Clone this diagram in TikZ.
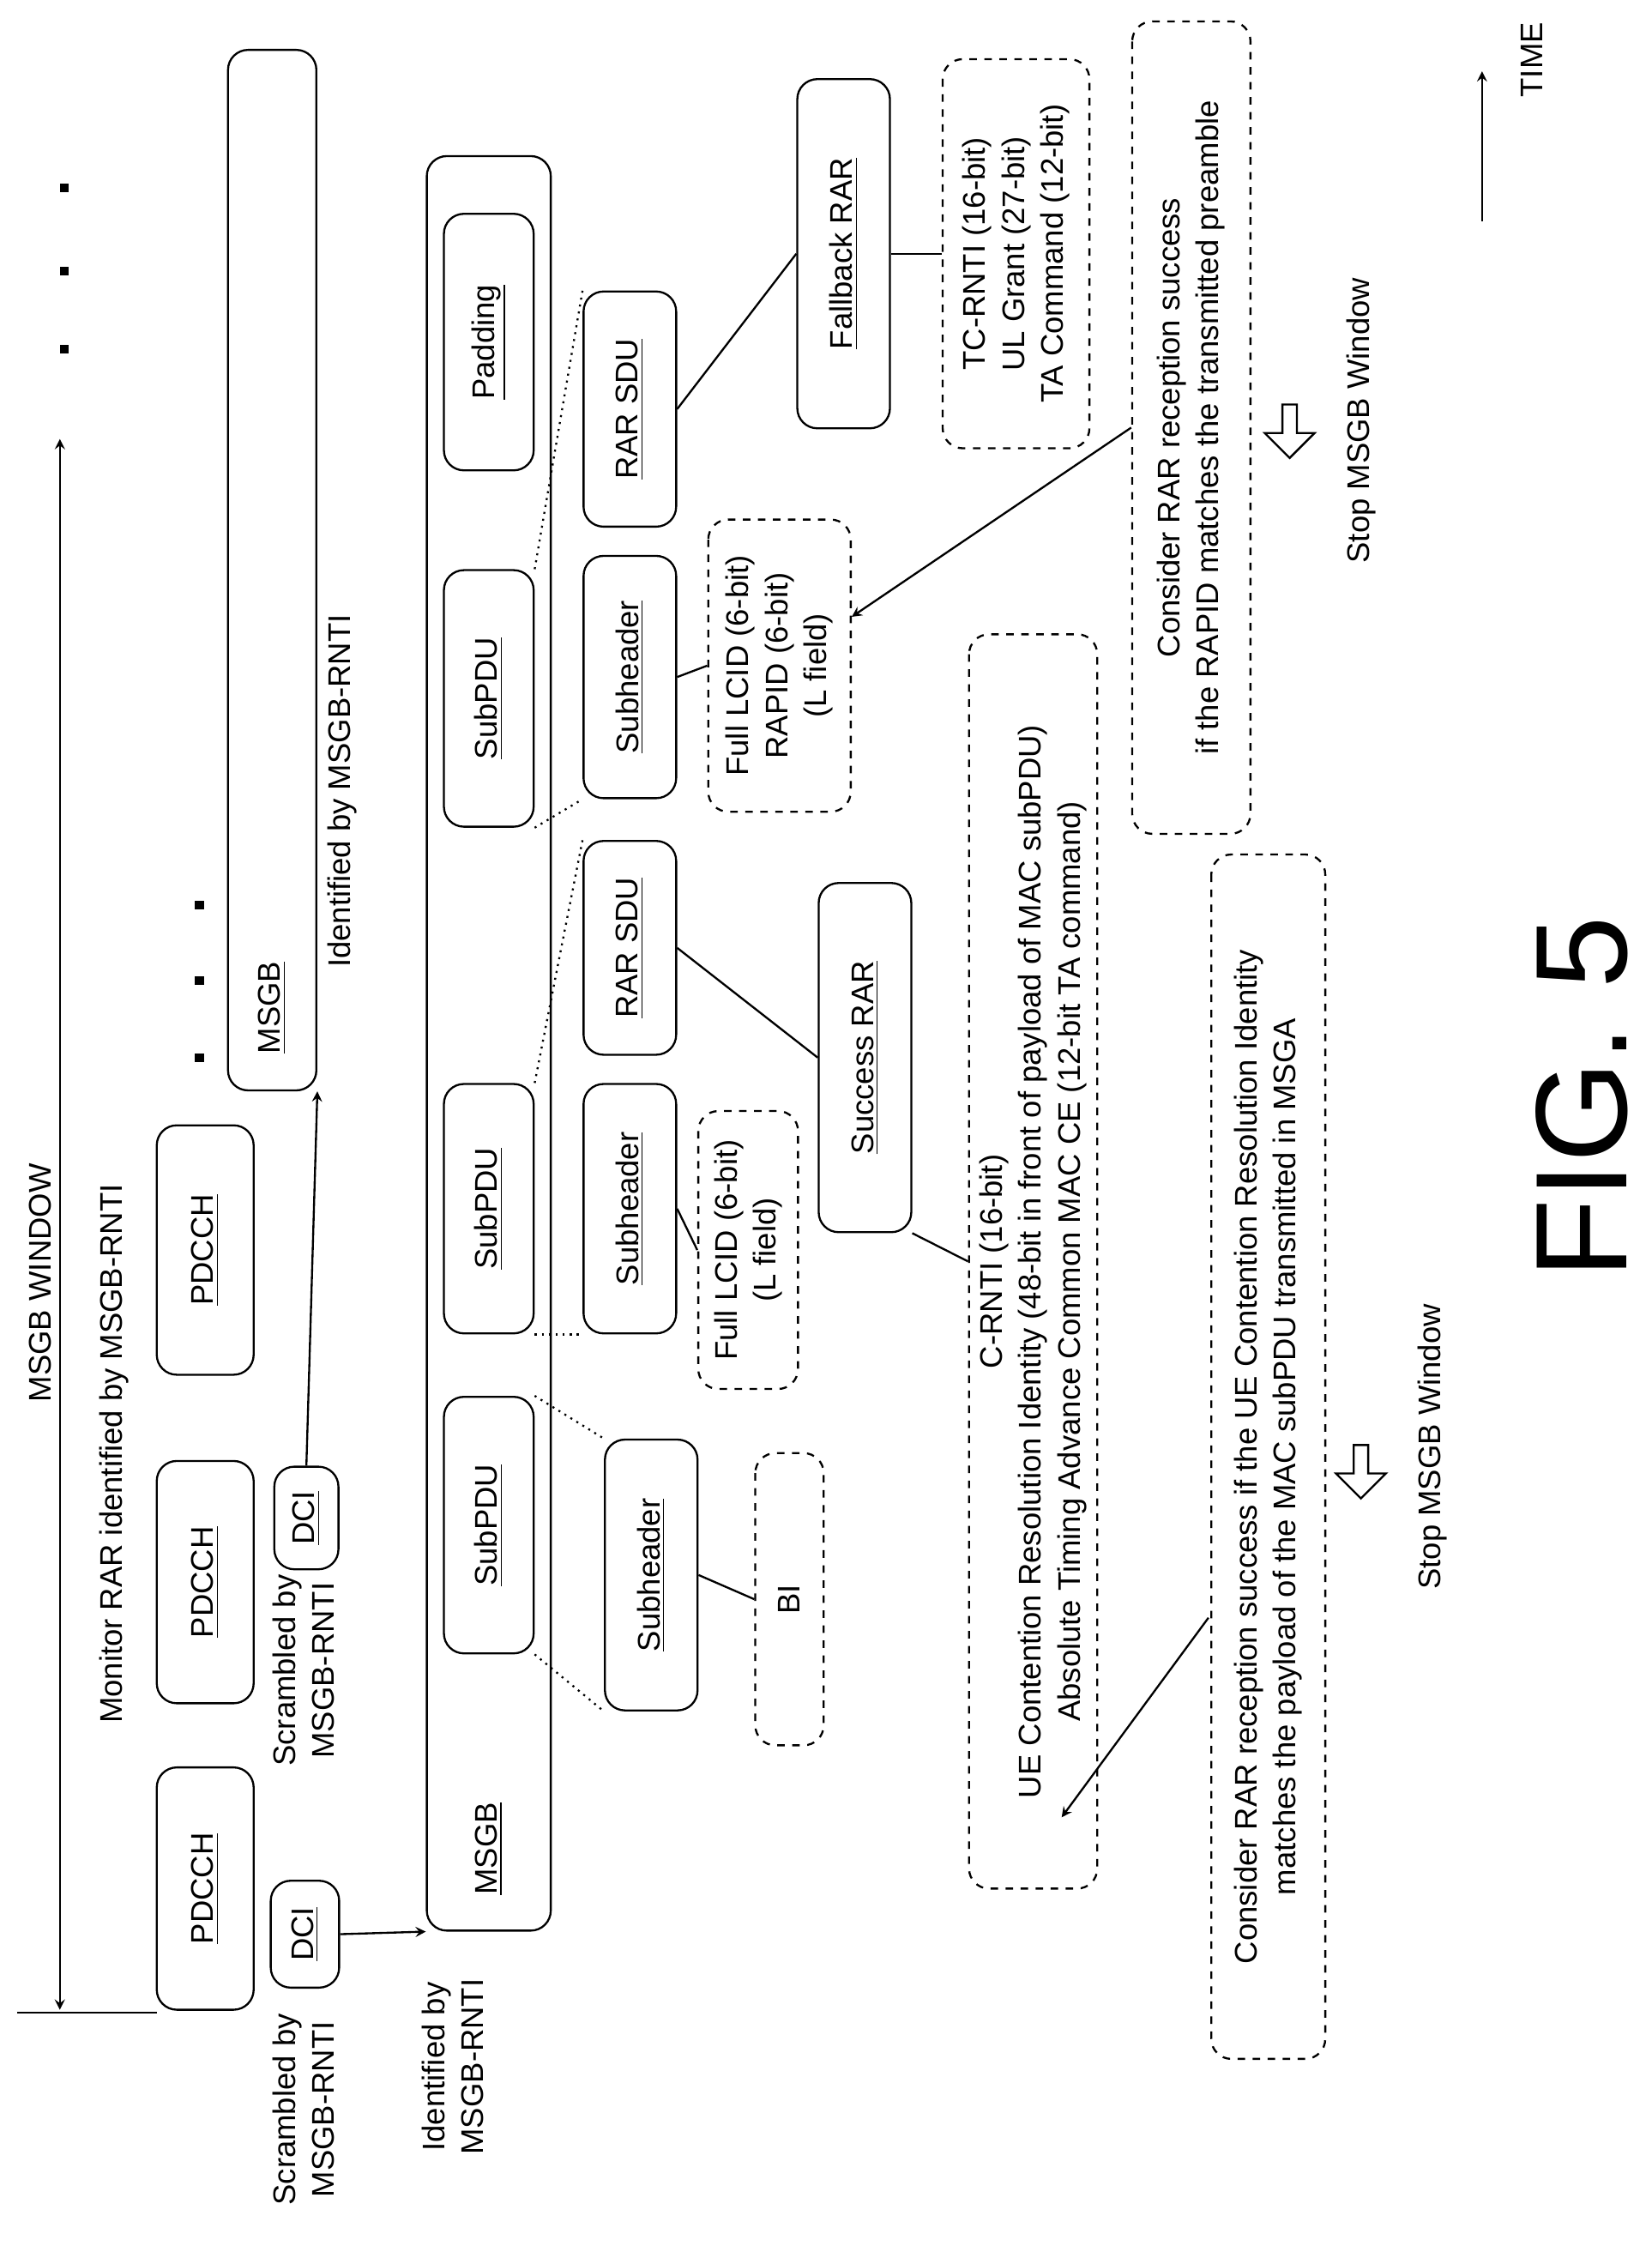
\documentclass[tikz,border=0pt]{standalone}
\usepackage{fontspec}
\setmainfont{Liberation Sans}
\usetikzlibrary{shapes.arrows}
\begin{document}
\begin{tikzpicture}[x=0.02cm,y=-0.02cm,>=stealth,line width=0.8pt,
  font=\fontsize{12.5}{15.5}\selectfont,
  box/.style={draw,rounded corners=8pt,rotate=90,inner sep=2pt},
  dbox/.style={draw,dashed,rounded corners=8pt,rotate=90,align=center,inner sep=2pt},
  lbl/.style={rotate=90,align=center,inner sep=0pt},
  stop/.style={draw,single arrow,shape border rotate=270,minimum width=0.7cm,
    minimum height=0.75cm,single arrow head extend=0.12cm,inner sep=1pt},
  dot/.style={fill,minimum size=3.5pt,inner sep=0pt}]
  % Frame
  \useasboundingbox (0,0) rectangle (1159,1580);

  % MSGB window
  \draw (12,1412) -- (110,1412);
  \draw[<->,thick] (42,1410) -- (42,308);
  \node[lbl] (win) at (28,900) {MSGB WINDOW};
  \node[lbl] (mon) at (80,1020) {Monitor RAR identified by MSGB-RNTI};
  \foreach \y in {132,190,245} \node[dot] at (45,\y) {};
  \foreach \y in {635,688,742} \node[dot] at (140,\y) {};

  % PDCCH and DCI
  \node[box,minimum width=170*0.02cm,minimum height=68*0.02cm] (pdcch1) at (144,1325) {\underline{PDCCH}};
  \node[box,minimum width=170*0.02cm,minimum height=68*0.02cm] (pdcch2) at (144,1110) {\underline{PDCCH}};
  \node[box,minimum width=175*0.02cm,minimum height=68*0.02cm] (pdcch3) at (144,877) {\underline{PDCCH}};
  \node[box,minimum width=75*0.02cm,minimum height=48*0.02cm] (dci1) at (214,1357) {\underline{DCI}};
  \node[box,minimum width=72*0.02cm,minimum height=45*0.02cm] (dci2) at (215,1065) {\underline{DCI}};
  \node[lbl] (scr1) at (213,1480) {Scrambled by\\MSGB-RNTI};
  \node[lbl] (scr2) at (213,1172) {Scrambled by\\MSGB-RNTI};

  % MSGB upper
  \node[box,minimum width=730*0.02cm,minimum height=62*0.02cm] (msgbtop) at (191,400) {};
  \node[lbl,anchor=west] (msgbtoplbl) at (191,740) {\underline{MSGB}};
  \node[lbl] (idtop) at (240,555) {Identified by MSGB-RNTI};
  \draw[->] (dci2.east) -- (msgbtop.south west);

  % MSGB main
  \node[box,minimum width=1245*0.02cm,minimum height=87*0.02cm] (msgb) at (343,732) {};
  \node[lbl,anchor=west] (msgblbl) at (343,1330) {\underline{MSGB}};
  \node[lbl] (idmain) at (318,1450) {Identified by\\MSGB-RNTI};
  \draw[->] (dci1.south) -- (msgb.north west);

  % SubPDUs
  \node[box,minimum width=180*0.02cm,minimum height=63*0.02cm] (sub1) at (343,1070) {\underline{SubPDU}};
  \node[box,minimum width=175*0.02cm,minimum height=63*0.02cm] (sub2) at (343,848) {\underline{SubPDU}};
  \node[box,minimum width=180*0.02cm,minimum height=63*0.02cm] (sub3) at (343,490) {\underline{SubPDU}};
  \node[box,minimum width=180*0.02cm,minimum height=63*0.02cm] (pad) at (343,240) {\underline{Padding}};

  % SubPDU 1
  \node[box,minimum width=190*0.02cm,minimum height=65*0.02cm] (sh1) at (457,1105) {\underline{Subheader}};
  \node[dbox,minimum width=205*0.02cm,minimum height=48*0.02cm] (bi) at (554,1122) {BI};
  \draw[dotted] (sub1.south east) -- (sh1.north east);
  \draw[dotted] (sub1.south west) -- (sh1.north west);
  \draw (sh1.south) -- (bi.north);

  % SubPDU 2
  \node[box,minimum width=175*0.02cm,minimum height=65*0.02cm] (sh2) at (442,848) {\underline{Subheader}};
  \node[box,minimum width=150*0.02cm,minimum height=65*0.02cm] (sdu2) at (442,665) {\underline{RAR SDU}};
  \draw[dotted] (sub2.south west) -- (sh2.north west);
  \draw[dotted] (sub2.south east) -- (sdu2.north east);
  \node[dbox,minimum width=195*0.02cm,minimum height=70*0.02cm] (lcid1) at (525,877) {Full LCID (6-bit)\\(L field)};
  \draw (sh2.south) -- (lcid1.north);
  \node[box,minimum width=245*0.02cm,minimum height=65*0.02cm] (srar) at (607,742) {\underline{Success RAR}};
  \draw (sdu2.south) -- (srar.north);
  \node[dbox,minimum width=880*0.02cm,minimum height=90*0.02cm] (crnti) at (725,885)
    {C-RNTI (16-bit)\\UE Contention Resolution Identity (48-bit in front of payload of MAC subPDU)\\Absolute Timing Advance Common MAC CE (12-bit TA command)};
  \draw (srar.south west) -- (crnti.north);

  % SubPDU 3
  \node[box,minimum width=170*0.02cm,minimum height=65*0.02cm] (sh3) at (442,475) {\underline{Subheader}};
  \node[box,minimum width=165*0.02cm,minimum height=65*0.02cm] (sdu3) at (442,287) {\underline{RAR SDU}};
  \draw[dotted] (sub3.south west) -- (sh3.north west);
  \draw[dotted] (sub3.south east) -- (sdu3.north east);
  \node[dbox,minimum width=205*0.02cm,minimum height=100*0.02cm] (lcid2) at (547,467) {Full LCID (6-bit)\\RAPID (6-bit)\\(L field)};
  \draw (sh3.south) -- (lcid2.north);
  \node[box,minimum width=245*0.02cm,minimum height=65*0.02cm] (fb) at (592,178) {\underline{Fallback RAR}};
  \draw (sdu3.south) -- (fb.north);
  \node[dbox,minimum width=273*0.02cm,minimum height=103*0.02cm] (tc) at (713,178) {TC-RNTI (16-bit)\\UL Grant (27-bit)\\TA Command (12-bit)};
  \draw (fb.south) -- (tc.north);

  % Checks
  \node[dbox,minimum width=570*0.02cm,minimum height=83*0.02cm] (chk1) at (836,300) {Consider RAR reception success\\if the RAPID matches the transmitted preamble};
  \draw[->] (chk1.north) -- (lcid2);
  \node[stop] (stop1) at (905,300) {};
  \node[lbl] (stoplbl1) at (955,295) {Stop MSGB Window};
  \node[dbox,minimum width=845*0.02cm,minimum height=80*0.02cm] (chk2) at (890,1022) {Consider RAR reception success if the UE Contention Resolution Identity\\matches the payload of the MAC subPDU transmitted in MSGA};
  \coordinate (s2) at (848,1135);
  \coordinate (t2) at (745,1275);
  \draw[->] (s2) -- (t2);
  \node[stop] (stop2) at (955,1030) {};
  \node[lbl] (stoplbl2) at (1005,1015) {Stop MSGB Window};

  % Time
  \draw[->] (1040,155) -- (1040,50);
  \node[lbl] (time) at (1075,42) {TIME};
  \node[lbl,font=\fontsize{52}{60}\selectfont] (fig) at (1110,770) {FIG. 5};
\end{tikzpicture}
\end{document}
